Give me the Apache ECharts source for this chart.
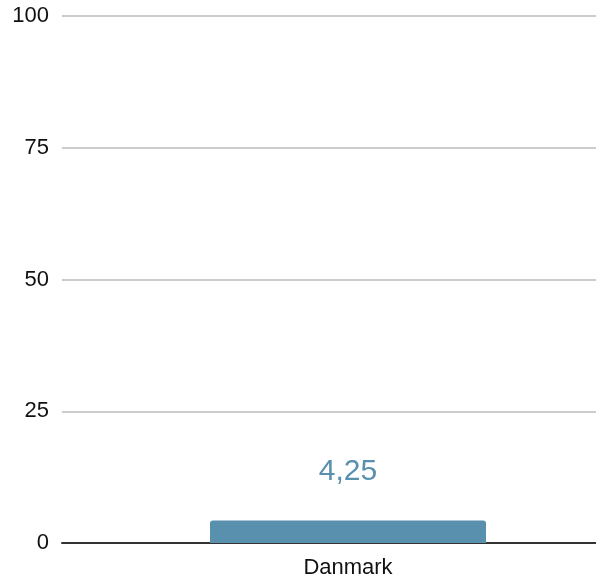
<!DOCTYPE html>
<html><head><meta charset="utf-8">
<script src="https://cdn.jsdelivr.net/npm/echarts@6/dist/echarts.min.js"></script>
<style>html,body{margin:0;padding:0;background:#fff}#c{width:596px;height:582px}</style>
</head><body><div id="c"></div>
<script>
const categories = ["Danmark"];
const values = [4.25];
const yTicks = [0, 25, 50, 75, 100];

const chart = echarts.init(document.getElementById('c'));
chart.setOption({
  animation: false,
  grid: { left: 62, width: 572, top: 16, bottom: 39, outerBoundsMode: 'none', containLabel: false },
  xAxis: {
    type: 'category',
    data: categories,
    axisLine: { lineStyle: { color: '#333', width: 2 } },
    axisTick: { show: false },
    axisLabel: { color: '#111', fontSize: 22, fontFamily: 'Liberation Sans', margin: 14 }
  },
  yAxis: {
    type: 'value',
    min: yTicks[0], max: yTicks[yTicks.length - 1], interval: 25,
    axisLine: { show: false },
    axisTick: { show: false },
    splitLine: { lineStyle: { color: '#ccc', width: 2 } },
    axisLabel: { color: '#111', fontSize: 22, fontFamily: 'Liberation Sans', margin: 13, padding: [3, 0, 0, 0] }
  },
  series: [{
    type: 'bar',
    data: values,
    barWidth: 276,
    itemStyle: { color: '#5890ad', borderRadius: [3, 3, 0, 0] },
    label: {
      show: true, position: 'top', distance: 34,
      color: '#5890ad', fontSize: 30, fontFamily: 'Liberation Sans',
      formatter: p => String(p.value).replace('.', ',')
    }
  }]
});
</script></body></html>
